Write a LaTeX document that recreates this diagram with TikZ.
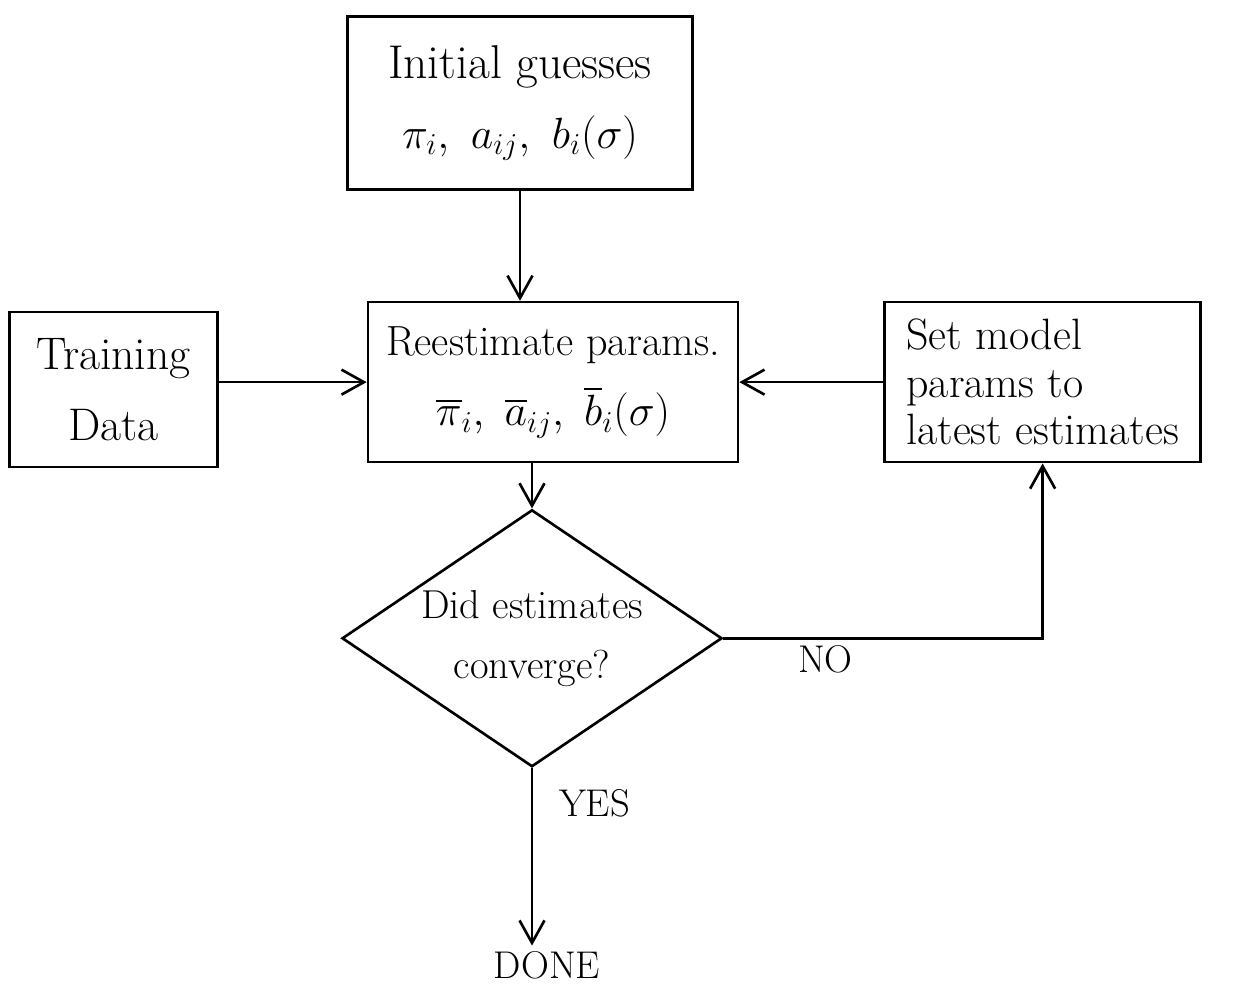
\documentclass[tikz,border=0pt]{standalone}
\usepackage{fontspec}
\usepackage{amsmath,amssymb}
\usetikzlibrary{shapes.geometric, arrows.meta, positioning}

\begin{document}
\begin{tikzpicture}[node distance = 2cm, >={Straight Barb[length=4.5mm,width=5mm]},
    block/.style={rectangle, draw, line width=1.5pt, align=center, minimum height=3.2cm, font=\fontsize{26}{40}\selectfont},
    decision/.style={diamond, draw, line width=1.5pt, aspect=1.48, inner sep=-0.3cm, minimum width=7.6cm, minimum height=5.14cm, align=center, font=\fontsize{23}{34}\selectfont},
    answer/.style={font=\fontsize{22}{26}\selectfont},
    arrow/.style={line width=1.5pt,->}
]
    \useasboundingbox (0,0) rectangle (24.68,-20.06);

    % Place nodes
    \node [block, minimum width=6.9cm, minimum height=3.46cm, font=\fontsize{27}{40}\selectfont] (init) at (10.4,-2.06) {Initial guesses\\ $\pi_i,\ a_{ij},\ b_i(\sigma)$};
    \node [block, below=2.2cm of init, xshift=0.66cm, minimum width=7.4cm, font=\fontsize{24}{40}\selectfont] (reest) {Reestimate params.\\ $\overline{\pi}_i,\ \overline{a}_{ij},\ \overline{b}_i(\sigma)$};
    \node [block, left=2.96cm of reest, yshift=-0.15cm, minimum width=4.16cm, minimum height=3.1cm] (train) {Training\\ Data};
    \node [block, right=2.88cm of reest, minimum width=6.32cm, align=left, inner sep=0.2cm, font=\fontsize{25}{27}\selectfont] (setp) {Set model\\ params to\\ latest estimates};
    \node [decision, below=0.9cm of reest, xshift=-0.42cm] (dec) {Did estimates\\ converge?};
    \node [answer, below=3.55cm of dec, xshift=0.3cm] (done) {DONE};

    % Draw edges
    \draw [arrow] (init.south) -- (init.south |- reest.north);
    \draw [arrow] (train.east |- reest.west) -- (reest.west);
    \draw [arrow] (setp) -- (reest);
    \draw [arrow] (reest.south -| dec.north) -- (dec.north);
    \draw [arrow] (dec.east) -| node [answer, below, pos=0.16] (no) {NO} (setp.south);
    \draw [arrow] (dec.south) -- node [answer, right, pos=0.2, xshift=0.4cm] (yes) {YES} (dec.south |- done.north);
\end{tikzpicture}
\end{document}
